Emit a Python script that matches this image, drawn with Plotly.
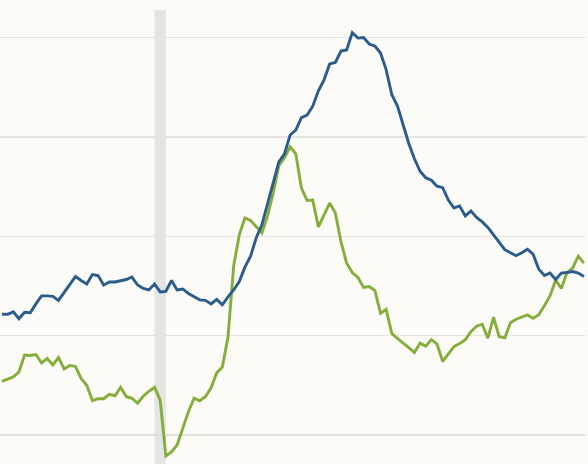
import plotly.graph_objects as go

# period index (evenly spaced observations)
periods = list(range(104))

blue_values = [
    2.43, 2.43, 2.48, 2.34, 2.47, 2.46, 2.64, 2.80, 2.80, 2.79,
    2.71, 2.87, 3.04, 3.19, 3.11, 3.04, 3.23, 3.21, 3.02, 3.08,
    3.08, 3.10, 3.13, 3.18, 3.02, 2.95, 2.92, 3.04, 2.88, 2.89,
    3.11, 2.92, 2.94, 2.85, 2.78, 2.72, 2.71, 2.64, 2.73, 2.62,
    2.78, 2.92, 3.09, 3.38, 3.60, 3.97, 4.23, 4.65, 5.07, 5.50,
    5.66, 6.04, 6.14, 6.39, 6.44, 6.62, 6.93, 7.15, 7.47, 7.50,
    7.73, 7.75, 8.10, 7.99, 8.00, 7.87, 7.83, 7.69, 7.35, 6.85,
    6.62, 6.22, 5.87, 5.56, 5.31, 5.18, 5.13, 5.01, 4.98, 4.73,
    4.57, 4.61, 4.41, 4.51, 4.38, 4.29, 4.18, 4.03, 3.89, 3.73,
    3.67, 3.61, 3.67, 3.74, 3.64, 3.34, 3.21, 3.26, 3.13, 3.26,
    3.27, 3.29, 3.26, 3.19,
]

green_values = [
    1.08, 1.13, 1.17, 1.27, 1.61, 1.60, 1.62, 1.45, 1.54, 1.41,
    1.56, 1.33, 1.40, 1.38, 1.14, 1.00, 0.69, 0.73, 0.73, 0.82,
    0.79, 0.96, 0.77, 0.74, 0.64, 0.78, 0.88, 0.96, 0.70, -0.42,
    -0.34, -0.20, 0.13, 0.47, 0.74, 0.69, 0.77, 0.95, 1.25, 1.37,
    1.97, 3.40, 4.03, 4.37, 4.32, 4.19, 4.07, 4.41, 4.87, 5.42,
    5.58, 5.80, 5.66, 4.97, 4.72, 4.73, 4.19, 4.43, 4.67, 4.47,
    3.89, 3.46, 3.27, 3.17, 2.97, 2.99, 2.91, 2.45, 2.53, 2.04,
    1.94, 1.85, 1.76, 1.66, 1.85, 1.79, 1.92, 1.83, 1.48, 1.63,
    1.78, 1.84, 1.92, 2.08, 2.19, 2.23, 1.95, 2.37, 1.98, 1.96,
    2.26, 2.33, 2.37, 2.42, 2.35, 2.42, 2.60, 2.80, 3.12, 2.95,
    3.27, 3.36, 3.60, 3.46,
]

recession_start = 27
recession_end = 29

BG = "#fcfbf7"
GRID = "#e6e4e0"
BLUE = "#2b5c8c"
GREEN = "#85ad3c"

fig = go.Figure()
fig.add_trace(go.Scatter(x=periods, y=green_values, mode="lines",
                         line=dict(color=GREEN, width=2.9), name="green",
                         hoverinfo="skip"))
fig.add_trace(go.Scatter(x=periods, y=blue_values, mode="lines",
                         line=dict(color=BLUE, width=2.9), name="blue",
                         hoverinfo="skip"))

fig.add_shape(type="rect", xref="x", yref="paper",
              x0=recession_start, x1=recession_end, y0=0, y1=1,
              fillcolor="#e4e4e4", line=dict(width=0), layer="between")

fig.update_layout(
    width=588, height=464,
    margin=dict(l=0, r=3, t=10, b=0),
    paper_bgcolor=BG, plot_bgcolor=BG,
    showlegend=False,
    hovermode=False,
    xaxis=dict(range=[-0.354, 103.19], showgrid=False, zeroline=False,
               showticklabels=False, ticks="", showline=False),
    yaxis=dict(range=[-0.584, 8.556], dtick=2, tick0=0, showgrid=True,
               gridcolor=GRID, gridwidth=1.3, zeroline=True,
               zerolinecolor="#e2e0dc", zerolinewidth=2.2,
               showticklabels=False, ticks="", showline=False),
)

fig.write_html(
    "out.html",
    config={"displayModeBar": False, "staticPlot": True},
    post_script="document.body.style.margin='0';document.body.style.background='%s';" % BG,
)
